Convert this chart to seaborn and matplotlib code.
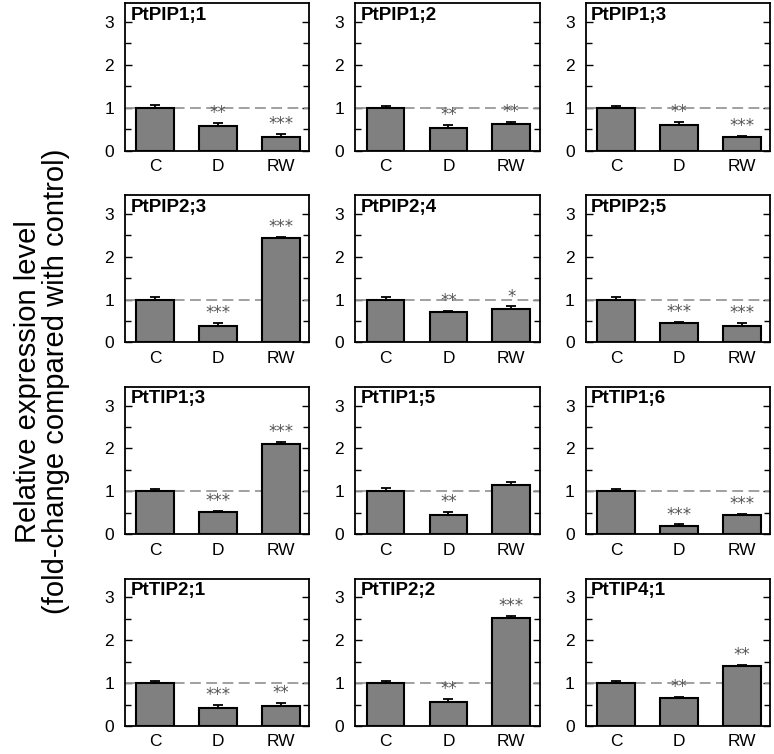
import pandas as pd
import matplotlib.pyplot as plt
import seaborn as sns
from matplotlib.ticker import MultipleLocator

genes = ['PtPIP1;1', 'PtPIP1;2', 'PtPIP1;3',
         'PtPIP2;3', 'PtPIP2;4', 'PtPIP2;5',
         'PtTIP1;3', 'PtTIP1;5', 'PtTIP1;6',
         'PtTIP2;1', 'PtTIP2;2', 'PtTIP4;1']
treatments = ['C', 'D', 'RW']

# mean relative expression (C, D, RW) per gene
means = [
    [1.00, 0.57, 0.32],
    [1.00, 0.53, 0.63],
    [1.00, 0.60, 0.32],
    [1.00, 0.38, 2.43],
    [1.00, 0.70, 0.77],
    [1.00, 0.45, 0.38],
    [1.00, 0.52, 2.10],
    [1.00, 0.45, 1.15],
    [1.00, 0.20, 0.45],
    [1.00, 0.42, 0.48],
    [1.00, 0.56, 2.53],
    [1.00, 0.66, 1.40],
]
# standard errors
errors = [
    [0.07, 0.07, 0.07],
    [0.03, 0.07, 0.04],
    [0.03, 0.07, 0.03],
    [0.07, 0.07, 0.03],
    [0.07, 0.03, 0.07],
    [0.06, 0.03, 0.07],
    [0.06, 0.03, 0.06],
    [0.07, 0.07, 0.07],
    [0.06, 0.03, 0.03],
    [0.06, 0.07, 0.07],
    [0.06, 0.07, 0.03],
    [0.05, 0.03, 0.03],
]
# significance marks
stars = [
    ['', '**', '***'],
    ['', '**', '**'],
    ['', '**', '***'],
    ['', '***', '***'],
    ['', '**', '*'],
    ['', '***', '***'],
    ['', '***', '***'],
    ['', '**', ''],
    ['', '***', '***'],
    ['', '***', '**'],
    ['', '**', '***'],
    ['', '**', '**'],
]

sns.set_style('ticks')
plt.rcParams['font.family'] = ['Liberation Sans', 'DejaVu Sans']
plt.rcParams['text.color'] = 'black'
plt.rcParams['xtick.color'] = 'black'
plt.rcParams['ytick.color'] = 'black'

fig, axes = plt.subplots(4, 3, figsize=(7.74, 7.54), dpi=100)
plt.subplots_adjust(left=0.1615, right=0.9948, top=0.996, bottom=0.037,
                    wspace=0.25, hspace=0.30)

for i, ax in enumerate(axes.flat):
    df = pd.DataFrame({'treatment': treatments, 'value': means[i]})
    sns.barplot(data=df, x='treatment', y='value', order=treatments,
                color='#808080', saturation=1, width=0.6,
                edgecolor='black', linewidth=1.5, errorbar=None, ax=ax, zorder=2)
    ax.errorbar(range(3), means[i], yerr=[[0, 0, 0], errors[i]], fmt='none',
                ecolor='black', elinewidth=1.3, capsize=3.5, capthick=1.3, zorder=3)
    ax.axhline(1, color='#999999', linestyle=(0, (6, 3)), linewidth=1.3, zorder=1)
    for j in range(3):
        if stars[i][j]:
            ax.text(j, means[i][j] + errors[i][j] + 0.02, stars[i][j],
                    ha='center', va='bottom', fontsize=12, color='#555555',
                    family='DejaVu Sans')
    ax.text(0.03, 0.975, genes[i], transform=ax.transAxes, ha='left', va='top',
            fontsize=13.5, fontweight='bold', color='black')
    ax.set_xlim(-0.48, 2.45)
    ax.set_ylim(0, 3.44)
    ax.yaxis.set_major_locator(MultipleLocator(1))
    ax.yaxis.set_minor_locator(MultipleLocator(0.5))
    ax.tick_params(axis='y', which='both', direction='in', left=True, right=True,
                   labelsize=12.5, width=1, pad=8)
    ax.tick_params(axis='y', which='major', length=5)
    ax.tick_params(axis='y', which='minor', length=4)
    ax.tick_params(axis='x', length=0, labelsize=12.5, pad=6)
    ax.set_xlabel('')
    ax.set_ylabel('')
    for s in ax.spines.values():
        s.set_linewidth(1.3)
        s.set_color('black')

fig.text(0.054, 0.494, 'Relative expression level\n(fold-change compared with control)',
         rotation=90, ha='center', va='center', fontsize=21, linespacing=1.0)

fig.savefig('out.png', dpi=100)
